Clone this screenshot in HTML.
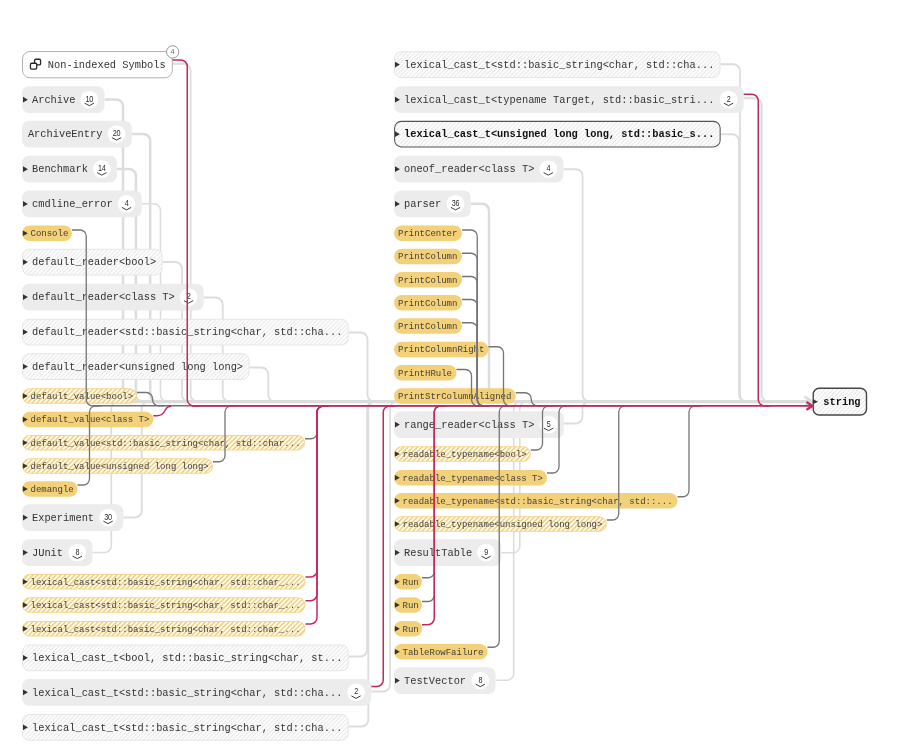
<!DOCTYPE html>
<html lang="en"><head><meta charset="utf-8"><title>Graph</title>
<style>
html,body{margin:0;padding:0;background:#fff;}
body{width:905px;height:752px;position:relative;overflow:hidden;font-family:"Liberation Mono",monospace;}
.edges{position:absolute;left:0;top:0;}
.lbls span{position:absolute;left:0;top:0;white-space:nowrap;}
.lt{font-size:10.35px;line-height:26.75px;height:26.75px;color:#333;}
.lb{font-weight:bold;color:#111;}
.lf{font-size:9px;line-height:15.5px;height:15.5px;color:#45423a;}
.bn{width:20px;text-align:center;font:normal 8.8px/8px "Liberation Sans",sans-serif;letter-spacing:-0.3px;color:#2a2a2a;}
.cn{font:7.3px/8px "Liberation Sans",sans-serif;color:#6a6a6a;width:12px;text-align:center;}
</style></head><body>

<svg class="edges" width="905" height="752" viewBox="0 0 905 752" fill="none" stroke-linecap="butt" stroke-linejoin="round">
<defs><pattern id="hg" patternUnits="userSpaceOnUse" width="3" height="3" patternTransform="rotate(45)"><rect width="3" height="3" fill="#fff"/><rect x="0" width="1.2" height="3" fill="#e9e9e9"/></pattern><pattern id="hy" patternUnits="userSpaceOnUse" width="3.3" height="3.3" patternTransform="rotate(45)"><rect width="3.3" height="3.3" fill="#fff"/><rect x="0" width="1.7" height="3.3" fill="#f3d383"/></pattern></defs>
<g stroke="#dddddd">
<path d="M172.50 63.75 L183.80 63.75 A6.80 6.80 0 0 1 190.60 70.55 L190.60 394.80 A6.80 6.80 0 0 0 197.40 401.60 L204.60 401.60" stroke-width="1.80"/>
<path d="M104.50 99.40 L116.20 99.40 A6.80 6.80 0 0 1 123.00 106.20 L123.00 394.80 A6.80 6.80 0 0 0 129.80 401.60 L137.00 401.60" stroke-width="2.50"/>
<path d="M131.75 134.00 L143.40 134.00 A6.80 6.80 0 0 1 150.20 140.80 L150.20 394.80 A6.80 6.80 0 0 0 157.00 401.60 L164.20 401.60" stroke-width="2.50"/>
<path d="M117.00 169.00 L129.10 169.00 A6.80 6.80 0 0 1 135.90 175.80 L135.90 394.80 A6.80 6.80 0 0 0 142.70 401.60 L149.90 401.60" stroke-width="2.50"/>
<path d="M141.75 203.75 L153.70 203.75 A6.80 6.80 0 0 1 160.50 210.55 L160.50 394.80 A6.80 6.80 0 0 0 167.30 401.60 L174.50 401.60" stroke-width="1.60"/>
<path d="M162.50 262.00 L175.20 262.00 A6.80 6.80 0 0 1 182.00 268.80 L182.00 394.80 A6.80 6.80 0 0 0 188.80 401.60 L196.00 401.60" stroke-width="1.80"/>
<path d="M203.75 297.50 L215.90 297.50 A6.80 6.80 0 0 1 222.70 304.30 L222.70 394.80 A6.80 6.80 0 0 0 229.50 401.60 L236.70 401.60" stroke-width="1.80"/>
<path d="M348.75 332.50 L360.70 332.50 A6.80 6.80 0 0 1 367.50 339.30 L367.50 394.80 A6.80 6.80 0 0 0 374.30 401.60 L381.50 401.60" stroke-width="1.80"/>
<path d="M249.50 367.50 L261.50 367.50 A6.80 6.80 0 0 1 268.30 374.30 L268.30 394.80 A6.80 6.80 0 0 0 275.10 401.60 L282.30 401.60" stroke-width="1.80"/>
<path d="M123.25 517.50 L134.95 517.50 A6.80 6.80 0 0 0 141.75 510.70 L141.75 408.40 A6.80 6.80 0 0 1 148.55 401.60 L155.75 401.60" stroke-width="1.90"/>
<path d="M92.50 552.50 L104.45 552.50 A6.80 6.80 0 0 0 111.25 545.70 L111.25 408.40 A6.80 6.80 0 0 1 118.05 401.60 L125.25 401.60" stroke-width="1.70"/>
<path d="M348.75 656.50 L360.30 656.50 A6.80 6.80 0 0 0 367.10 649.70 L367.10 408.40 A6.80 6.80 0 0 1 373.90 401.60 L381.10 401.60" stroke-width="1.80"/>
<path d="M371.25 691.50 L383.20 691.50 A6.80 6.80 0 0 0 390.00 684.70 L390.00 408.40 A6.80 6.80 0 0 1 396.80 401.60 L404.00 401.60" stroke-width="1.80"/>
<path d="M348.75 726.50 L361.50 726.50 A6.80 6.80 0 0 0 368.30 719.70 L368.30 408.40 A6.80 6.80 0 0 1 375.10 401.60 L382.30 401.60" stroke-width="1.80"/>
<path d="M720.50 64.25 L733.20 64.25 A6.80 6.80 0 0 1 740.00 71.05 L740.00 394.80 A6.80 6.80 0 0 0 746.80 401.60 L754.00 401.60" stroke-width="1.80"/>
<path d="M743.75 98.25 L754.95 98.25 A6.80 6.80 0 0 1 761.75 105.05 L761.75 394.80 A6.80 6.80 0 0 0 768.55 401.60 L775.75 401.60" stroke-width="1.80"/>
<path d="M720.75 134.25 L732.20 134.25 A6.80 6.80 0 0 1 739.00 141.05 L739.00 394.80 A6.80 6.80 0 0 0 745.80 401.60 L753.00 401.60" stroke-width="1.80"/>
<path d="M563.50 169.25 L575.80 169.25 A6.80 6.80 0 0 1 582.60 176.05 L582.60 394.80 A6.80 6.80 0 0 0 589.40 401.60 L596.60 401.60" stroke-width="1.80"/>
<path d="M470.75 203.75 L482.20 203.75 A6.80 6.80 0 0 1 489.00 210.55 L489.00 394.80 A6.80 6.80 0 0 0 495.80 401.60 L503.00 401.60" stroke-width="2.50"/>
<path d="M563.50 423.50 L575.70 423.50 A6.80 6.80 0 0 0 582.50 416.70 L582.50 408.40 A6.80 6.80 0 0 1 589.30 401.60 L596.50 401.60" stroke-width="1.80"/>
<path d="M501.25 552.75 L513.00 552.75 A6.80 6.80 0 0 0 519.80 545.95 L519.80 408.40 A6.80 6.80 0 0 1 526.60 401.60 L533.80 401.60" stroke-width="1.60"/>
<path d="M495.50 680.25 L506.90 680.25 A6.80 6.80 0 0 0 513.70 673.45 L513.70 408.40 A6.80 6.80 0 0 1 520.50 401.60 L527.70 401.60" stroke-width="1.60"/>
</g>
<path d="M119 401.60 H810.50" stroke="#dcdcdc" stroke-width="3.2"/>
<path d="M805.30 397.00 L811.70 401.40 L805.30 405.80" stroke="#dcdcdc" stroke-width="2.6" stroke-linecap="round"/>
<rect x="22.00" y="86.25" width="82.50" height="26.75" rx="7.2" fill="#ececec"/>
<circle cx="89.30" cy="99.62" r="8.9" fill="#fff"/>
<path d="M85.00 103.33 l4.3 2.3 l4.3 -2.3" stroke="#333" stroke-width="0.95" stroke-linecap="round"/>
<rect x="22.00" y="120.75" width="109.75" height="26.75" rx="7.2" fill="#ececec"/>
<circle cx="116.55" cy="134.12" r="8.9" fill="#fff"/>
<path d="M112.25 137.82 l4.3 2.3 l4.3 -2.3" stroke="#333" stroke-width="0.95" stroke-linecap="round"/>
<rect x="22.00" y="155.75" width="95.00" height="26.75" rx="7.2" fill="#ececec"/>
<circle cx="101.80" cy="169.12" r="8.9" fill="#fff"/>
<path d="M97.50 172.82 l4.3 2.3 l4.3 -2.3" stroke="#333" stroke-width="0.95" stroke-linecap="round"/>
<rect x="22.00" y="190.50" width="119.75" height="26.75" rx="7.2" fill="#ececec"/>
<circle cx="126.55" cy="203.88" r="8.9" fill="#fff"/>
<path d="M122.25 207.57 l4.3 2.3 l4.3 -2.3" stroke="#333" stroke-width="0.95" stroke-linecap="round"/>
<rect x="22.00" y="225.50" width="50.00" height="15.50" rx="7.8" fill="#f3d07a"/>
<rect x="22.50" y="249.25" width="139.50" height="25.75" rx="6.7" fill="url(#hg)" stroke="#e6e6e6" stroke-width="1"/>
<rect x="22.00" y="283.75" width="181.75" height="26.75" rx="7.2" fill="#ececec"/>
<circle cx="188.55" cy="297.12" r="8.9" fill="#fff"/>
<path d="M184.25 300.82 l4.3 2.3 l4.3 -2.3" stroke="#333" stroke-width="0.95" stroke-linecap="round"/>
<rect x="22.50" y="319.25" width="325.75" height="25.75" rx="6.7" fill="url(#hg)" stroke="#e6e6e6" stroke-width="1"/>
<rect x="22.50" y="353.75" width="226.50" height="25.75" rx="6.7" fill="url(#hg)" stroke="#e6e6e6" stroke-width="1"/>
<rect x="22.50" y="388.75" width="114.00" height="14.50" rx="7.2" fill="url(#hy)" stroke="#f3d689" stroke-width="1"/>
<rect x="22.00" y="411.75" width="131.25" height="15.50" rx="7.8" fill="#f3d07a"/>
<rect x="22.50" y="435.50" width="282.00" height="14.50" rx="7.2" fill="url(#hy)" stroke="#f3d689" stroke-width="1"/>
<rect x="22.50" y="458.75" width="190.00" height="14.50" rx="7.2" fill="url(#hy)" stroke="#f3d689" stroke-width="1"/>
<rect x="22.00" y="481.25" width="55.50" height="15.50" rx="7.8" fill="#f3d07a"/>
<rect x="22.00" y="504.25" width="101.25" height="26.75" rx="7.2" fill="#ececec"/>
<circle cx="108.05" cy="517.62" r="8.9" fill="#fff"/>
<path d="M103.75 521.33 l4.3 2.3 l4.3 -2.3" stroke="#333" stroke-width="0.95" stroke-linecap="round"/>
<rect x="22.00" y="539.25" width="70.50" height="26.75" rx="7.2" fill="#ececec"/>
<circle cx="77.30" cy="552.62" r="8.9" fill="#fff"/>
<path d="M73.00 556.33 l4.3 2.3 l4.3 -2.3" stroke="#333" stroke-width="0.95" stroke-linecap="round"/>
<rect x="22.50" y="574.50" width="282.50" height="14.50" rx="7.2" fill="url(#hy)" stroke="#f3d689" stroke-width="1"/>
<rect x="22.50" y="597.75" width="282.50" height="14.50" rx="7.2" fill="url(#hy)" stroke="#f3d689" stroke-width="1"/>
<rect x="22.50" y="621.50" width="282.50" height="14.50" rx="7.2" fill="url(#hy)" stroke="#f3d689" stroke-width="1"/>
<rect x="22.50" y="645.00" width="325.75" height="25.75" rx="6.7" fill="url(#hg)" stroke="#e6e6e6" stroke-width="1"/>
<rect x="22.00" y="679.00" width="349.25" height="26.75" rx="7.2" fill="#ececec"/>
<circle cx="356.05" cy="692.38" r="8.9" fill="#fff"/>
<path d="M351.75 696.08 l4.3 2.3 l4.3 -2.3" stroke="#333" stroke-width="0.95" stroke-linecap="round"/>
<rect x="22.50" y="714.50" width="325.75" height="25.75" rx="6.7" fill="url(#hg)" stroke="#e6e6e6" stroke-width="1"/>
<rect x="394.50" y="51.75" width="325.50" height="25.75" rx="6.7" fill="url(#hg)" stroke="#e6e6e6" stroke-width="1"/>
<rect x="394.00" y="86.25" width="349.75" height="26.75" rx="7.2" fill="#ececec"/>
<circle cx="728.55" cy="99.62" r="8.9" fill="#fff"/>
<path d="M724.25 103.33 l4.3 2.3 l4.3 -2.3" stroke="#333" stroke-width="0.95" stroke-linecap="round"/>
<rect x="394.60" y="121.35" width="325.55" height="25.55" rx="6.7" fill="url(#hg)" stroke="#555" stroke-width="1.05"/>
<rect x="394.00" y="155.75" width="169.50" height="26.75" rx="7.2" fill="#ececec"/>
<circle cx="548.30" cy="169.12" r="8.9" fill="#fff"/>
<path d="M544.00 172.82 l4.3 2.3 l4.3 -2.3" stroke="#333" stroke-width="0.95" stroke-linecap="round"/>
<rect x="394.00" y="190.50" width="76.75" height="26.75" rx="7.2" fill="#ececec"/>
<circle cx="455.55" cy="203.88" r="8.9" fill="#fff"/>
<path d="M451.25 207.57 l4.3 2.3 l4.3 -2.3" stroke="#333" stroke-width="0.95" stroke-linecap="round"/>
<rect x="394.00" y="225.50" width="68.00" height="15.50" rx="7.8" fill="#f3d07a"/>
<rect x="394.00" y="248.75" width="68.00" height="15.50" rx="7.8" fill="#f3d07a"/>
<rect x="394.00" y="272.00" width="68.00" height="15.50" rx="7.8" fill="#f3d07a"/>
<rect x="394.00" y="295.00" width="68.00" height="15.50" rx="7.8" fill="#f3d07a"/>
<rect x="394.00" y="318.25" width="68.00" height="15.50" rx="7.8" fill="#f3d07a"/>
<rect x="394.00" y="341.75" width="94.50" height="15.50" rx="7.8" fill="#f3d07a"/>
<rect x="394.00" y="365.00" width="62.50" height="15.50" rx="7.8" fill="#f3d07a"/>
<rect x="394.00" y="388.25" width="121.75" height="15.50" rx="7.8" fill="#f3d07a"/>
<rect x="394.00" y="411.25" width="169.75" height="26.75" rx="7.2" fill="#ececec"/>
<circle cx="548.55" cy="424.62" r="8.9" fill="#fff"/>
<path d="M544.25 428.32 l4.3 2.3 l4.3 -2.3" stroke="#333" stroke-width="0.95" stroke-linecap="round"/>
<rect x="394.50" y="446.75" width="135.75" height="14.50" rx="7.2" fill="url(#hy)" stroke="#f3d689" stroke-width="1"/>
<rect x="394.00" y="470.00" width="153.00" height="15.50" rx="7.8" fill="#f3d07a"/>
<rect x="394.00" y="493.00" width="283.50" height="15.50" rx="7.8" fill="#f3d07a"/>
<rect x="394.50" y="516.75" width="211.75" height="14.50" rx="7.2" fill="url(#hy)" stroke="#f3d689" stroke-width="1"/>
<rect x="394.00" y="539.25" width="107.25" height="26.75" rx="7.2" fill="#ececec"/>
<circle cx="486.05" cy="552.62" r="8.9" fill="#fff"/>
<path d="M481.75 556.33 l4.3 2.3 l4.3 -2.3" stroke="#333" stroke-width="0.95" stroke-linecap="round"/>
<rect x="394.00" y="574.00" width="28.00" height="15.50" rx="7.8" fill="#f3d07a"/>
<rect x="394.00" y="597.25" width="28.00" height="15.50" rx="7.8" fill="#f3d07a"/>
<rect x="394.00" y="621.00" width="28.00" height="15.50" rx="7.8" fill="#f3d07a"/>
<rect x="394.00" y="644.00" width="93.50" height="15.50" rx="7.8" fill="#f3d07a"/>
<rect x="394.00" y="667.25" width="101.50" height="26.75" rx="7.2" fill="#ececec"/>
<circle cx="480.30" cy="680.62" r="8.9" fill="#fff"/>
<path d="M476.00 684.33 l4.3 2.3 l4.3 -2.3" stroke="#333" stroke-width="0.95" stroke-linecap="round"/>
<rect x="22.5" y="51.5" width="149.8" height="26.3" rx="7.5" fill="#fff" stroke="#b2b2b2" stroke-width="1"/>
<rect x="34.55" y="59.25" width="6" height="5.7" rx="1.3" fill="#fff" stroke="#262626" stroke-width="1.3"/><rect x="30.45" y="63.25" width="6.3" height="5.8" rx="1.3" fill="#fff" stroke="#262626" stroke-width="1.3"/>
<rect x="813.2" y="388.2" width="53.3" height="26.8" rx="6" fill="url(#hg)" stroke="#474747" stroke-width="1.4"/>
</svg>
<div class="lbls">
<span class="lt" style="transform:translate(32.00px,86.85px)">Archive</span>
<span class="bn" style="transform:translate(79.30px,94.72px) scaleX(0.82)">10</span>
<span class="lt" style="transform:translate(27.90px,121.35px)">ArchiveEntry</span>
<span class="bn" style="transform:translate(106.55px,129.22px) scaleX(0.82)">20</span>
<span class="lt" style="transform:translate(32.00px,156.35px)">Benchmark</span>
<span class="bn" style="transform:translate(91.80px,164.22px) scaleX(0.82)">14</span>
<span class="lt" style="transform:translate(32.00px,191.10px)">cmdline_error</span>
<span class="bn" style="transform:translate(116.55px,198.97px) scaleX(0.82)">4</span>
<span class="lf" style="transform:translate(30.50px,227.00px)">Console</span>
<span class="lt" style="transform:translate(32.00px,249.35px)">default_reader&lt;bool&gt;</span>
<span class="lt" style="transform:translate(32.00px,284.35px)">default_reader&lt;class T&gt;</span>
<span class="bn" style="transform:translate(178.55px,292.23px) scaleX(0.82)">2</span>
<span class="lt" style="transform:translate(32.00px,319.35px)">default_reader&lt;std::basic_string&lt;char, std::cha...</span>
<span class="lt" style="transform:translate(32.00px,353.85px)">default_reader&lt;unsigned long long&gt;</span>
<span class="lf" style="transform:translate(30.50px,389.75px)">default_value&lt;bool&gt;</span>
<span class="lf" style="transform:translate(30.50px,413.25px)">default_value&lt;class T&gt;</span>
<span class="lf" style="transform:translate(30.50px,436.50px)">default_value&lt;std::basic_string&lt;char, std::char...</span>
<span class="lf" style="transform:translate(30.50px,459.75px)">default_value&lt;unsigned long long&gt;</span>
<span class="lf" style="transform:translate(30.50px,482.75px)">demangle</span>
<span class="lt" style="transform:translate(32.00px,504.85px)">Experiment</span>
<span class="bn" style="transform:translate(98.05px,512.73px) scaleX(0.82)">30</span>
<span class="lt" style="transform:translate(32.00px,539.85px)">JUnit</span>
<span class="bn" style="transform:translate(67.30px,547.73px) scaleX(0.82)">8</span>
<span class="lf" style="transform:translate(30.50px,575.50px)">lexical_cast&lt;std::basic_string&lt;char, std::char_...</span>
<span class="lf" style="transform:translate(30.50px,598.75px)">lexical_cast&lt;std::basic_string&lt;char, std::char_...</span>
<span class="lf" style="transform:translate(30.50px,622.50px)">lexical_cast&lt;std::basic_string&lt;char, std::char_...</span>
<span class="lt" style="transform:translate(32.00px,645.10px)">lexical_cast_t&lt;bool, std::basic_string&lt;char, st...</span>
<span class="lt" style="transform:translate(32.00px,679.60px)">lexical_cast_t&lt;std::basic_string&lt;char, std::cha...</span>
<span class="bn" style="transform:translate(346.05px,687.48px) scaleX(0.82)">2</span>
<span class="lt" style="transform:translate(32.00px,714.60px)">lexical_cast_t&lt;std::basic_string&lt;char, std::cha...</span>
<span class="lt" style="transform:translate(404.00px,51.85px)">lexical_cast_t&lt;std::basic_string&lt;char, std::cha...</span>
<span class="lt" style="transform:translate(404.00px,86.85px)">lexical_cast_t&lt;typename Target, std::basic_stri...</span>
<span class="bn" style="transform:translate(718.55px,94.72px) scaleX(0.82)">2</span>
<span class="lt lb" style="transform:translate(404.00px,121.35px)">lexical_cast_t&lt;unsigned long long, std::basic_s...</span>
<span class="lt" style="transform:translate(404.00px,156.35px)">oneof_reader&lt;class T&gt;</span>
<span class="bn" style="transform:translate(538.30px,164.22px) scaleX(0.82)">4</span>
<span class="lt" style="transform:translate(404.00px,191.10px)">parser</span>
<span class="bn" style="transform:translate(445.55px,198.97px) scaleX(0.82)">36</span>
<span class="lf" style="transform:translate(398.00px,227.00px)">PrintCenter</span>
<span class="lf" style="transform:translate(398.00px,250.25px)">PrintColumn</span>
<span class="lf" style="transform:translate(398.00px,273.50px)">PrintColumn</span>
<span class="lf" style="transform:translate(398.00px,296.50px)">PrintColumn</span>
<span class="lf" style="transform:translate(398.00px,319.75px)">PrintColumn</span>
<span class="lf" style="transform:translate(398.00px,343.25px)">PrintColumnRight</span>
<span class="lf" style="transform:translate(398.00px,366.50px)">PrintHRule</span>
<span class="lf" style="transform:translate(398.00px,389.75px)">PrintStrColumnAligned</span>
<span class="lt" style="transform:translate(404.00px,411.85px)">range_reader&lt;class T&gt;</span>
<span class="bn" style="transform:translate(538.55px,419.73px) scaleX(0.82)">5</span>
<span class="lf" style="transform:translate(402.50px,447.75px)">readable_typename&lt;bool&gt;</span>
<span class="lf" style="transform:translate(402.50px,471.50px)">readable_typename&lt;class T&gt;</span>
<span class="lf" style="transform:translate(402.50px,494.50px)">readable_typename&lt;std::basic_string&lt;char, std::...</span>
<span class="lf" style="transform:translate(402.50px,517.75px)">readable_typename&lt;unsigned long long&gt;</span>
<span class="lt" style="transform:translate(404.00px,539.85px)">ResultTable</span>
<span class="bn" style="transform:translate(476.05px,547.73px) scaleX(0.82)">9</span>
<span class="lf" style="transform:translate(402.50px,575.50px)">Run</span>
<span class="lf" style="transform:translate(402.50px,598.75px)">Run</span>
<span class="lf" style="transform:translate(402.50px,622.50px)">Run</span>
<span class="lf" style="transform:translate(402.50px,645.50px)">TableRowFailure</span>
<span class="lt" style="transform:translate(404.00px,667.85px)">TestVector</span>
<span class="bn" style="transform:translate(470.30px,675.73px) scaleX(0.82)">8</span>
<span class="lt" style="transform:translate(47.8px,51.9px)">Non-indexed Symbols</span>
<span class="lt lb" style="transform:translate(823.3px,388.8px)">string</span>
</div>
<svg class="edges" width="905" height="752" viewBox="0 0 905 752" fill="none" stroke-linecap="butt" stroke-linejoin="round">
<g fill="#333" stroke="none"><path d="M23.00 96.78 l4.9 2.85 l-4.9 2.85z"/><path d="M23.00 166.28 l4.9 2.85 l-4.9 2.85z"/><path d="M23.00 201.03 l4.9 2.85 l-4.9 2.85z"/><path d="M22.90 230.40 l4.9 2.85 l-4.9 2.85z"/><path d="M23.00 259.27 l4.9 2.85 l-4.9 2.85z"/><path d="M23.00 294.27 l4.9 2.85 l-4.9 2.85z"/><path d="M23.00 329.27 l4.9 2.85 l-4.9 2.85z"/><path d="M23.00 363.77 l4.9 2.85 l-4.9 2.85z"/><path d="M22.90 393.15 l4.9 2.85 l-4.9 2.85z"/><path d="M22.90 416.65 l4.9 2.85 l-4.9 2.85z"/><path d="M22.90 439.90 l4.9 2.85 l-4.9 2.85z"/><path d="M22.90 463.15 l4.9 2.85 l-4.9 2.85z"/><path d="M22.90 486.15 l4.9 2.85 l-4.9 2.85z"/><path d="M23.00 514.77 l4.9 2.85 l-4.9 2.85z"/><path d="M23.00 549.77 l4.9 2.85 l-4.9 2.85z"/><path d="M22.90 578.90 l4.9 2.85 l-4.9 2.85z"/><path d="M22.90 602.15 l4.9 2.85 l-4.9 2.85z"/><path d="M22.90 625.90 l4.9 2.85 l-4.9 2.85z"/><path d="M23.00 655.02 l4.9 2.85 l-4.9 2.85z"/><path d="M23.00 689.52 l4.9 2.85 l-4.9 2.85z"/><path d="M23.00 724.52 l4.9 2.85 l-4.9 2.85z"/><path d="M395.00 61.77 l4.9 2.85 l-4.9 2.85z"/><path d="M395.00 96.78 l4.9 2.85 l-4.9 2.85z"/><path d="M395.00 131.28 l4.9 2.85 l-4.9 2.85z"/><path d="M395.00 166.28 l4.9 2.85 l-4.9 2.85z"/><path d="M395.00 201.03 l4.9 2.85 l-4.9 2.85z"/><path d="M395.00 421.77 l4.9 2.85 l-4.9 2.85z"/><path d="M394.90 451.15 l4.9 2.85 l-4.9 2.85z"/><path d="M394.90 474.90 l4.9 2.85 l-4.9 2.85z"/><path d="M394.90 497.90 l4.9 2.85 l-4.9 2.85z"/><path d="M394.90 521.15 l4.9 2.85 l-4.9 2.85z"/><path d="M395.00 549.77 l4.9 2.85 l-4.9 2.85z"/><path d="M394.90 578.90 l4.9 2.85 l-4.9 2.85z"/><path d="M394.90 602.15 l4.9 2.85 l-4.9 2.85z"/><path d="M394.90 625.90 l4.9 2.85 l-4.9 2.85z"/><path d="M394.90 648.90 l4.9 2.85 l-4.9 2.85z"/><path d="M395.00 677.77 l4.9 2.85 l-4.9 2.85z"/></g>
<g stroke="#757575" stroke-width="1.3">
<path d="M72.00 230.00 L80.05 230.00 A6.20 6.20 0 0 1 86.25 236.20 L86.25 399.60 A6.20 6.20 0 0 0 92.45 405.80 L98.25 405.80"/>
<path d="M137.00 392.50 L146.30 392.50 A6.20 6.20 0 0 1 152.50 398.70 L152.50 399.60 A6.20 6.20 0 0 0 158.70 405.80 L164.50 405.80"/>
<path d="M305.00 438.75 L310.80 438.75 A6.20 6.20 0 0 0 317.00 432.55 L317.00 412.00 A6.20 6.20 0 0 1 323.20 405.80 L329.00 405.80"/>
<path d="M213.00 461.75 L218.80 461.75 A6.20 6.20 0 0 0 225.00 455.55 L225.00 412.00 A6.20 6.20 0 0 1 231.20 405.80 L237.00 405.80"/>
<path d="M77.50 485.00 L83.30 485.00 A6.20 6.20 0 0 0 89.50 478.80 L89.50 412.00 A6.20 6.20 0 0 1 95.70 405.80 L101.50 405.80"/>
<path d="M462.00 230.00 L471.05 230.00 A6.20 6.20 0 0 1 477.25 236.20 L477.25 399.60 A6.20 6.20 0 0 0 483.45 405.80 L489.25 405.80"/>
<path d="M462.00 253.25 L471.05 253.25 A6.20 6.20 0 0 1 477.25 259.45 L477.25 399.60 A6.20 6.20 0 0 0 483.45 405.80 L489.25 405.80"/>
<path d="M462.00 276.50 L471.05 276.50 A6.20 6.20 0 0 1 477.25 282.70 L477.25 399.60 A6.20 6.20 0 0 0 483.45 405.80 L489.25 405.80"/>
<path d="M462.00 299.50 L471.05 299.50 A6.20 6.20 0 0 1 477.25 305.70 L477.25 399.60 A6.20 6.20 0 0 0 483.45 405.80 L489.25 405.80"/>
<path d="M462.00 322.75 L471.05 322.75 A6.20 6.20 0 0 1 477.25 328.95 L477.25 399.60 A6.20 6.20 0 0 0 483.45 405.80 L489.25 405.80"/>
<path d="M488.50 346.75 L497.30 346.75 A6.20 6.20 0 0 1 503.50 352.95 L503.50 399.60 A6.20 6.20 0 0 0 509.70 405.80 L515.50 405.80"/>
<path d="M456.50 369.50 L465.30 369.50 A6.20 6.20 0 0 1 471.50 375.70 L471.50 399.60 A6.20 6.20 0 0 0 477.70 405.80 L483.50 405.80"/>
<path d="M515.75 392.75 L525.05 392.75 A6.20 6.20 0 0 1 531.25 398.95 L531.25 399.60 A6.20 6.20 0 0 0 537.45 405.80 L543.25 405.80"/>
<path d="M530.75 450.00 L536.30 450.00 A6.20 6.20 0 0 0 542.50 443.80 L542.50 412.00 A6.20 6.20 0 0 1 548.70 405.80 L554.50 405.80"/>
<path d="M547.00 473.00 L552.80 473.00 A6.20 6.20 0 0 0 559.00 466.80 L559.00 412.00 A6.20 6.20 0 0 1 565.20 405.80 L571.00 405.80"/>
<path d="M677.50 496.75 L682.80 496.75 A6.20 6.20 0 0 0 689.00 490.55 L689.00 412.00 A6.20 6.20 0 0 1 695.20 405.80 L701.00 405.80"/>
<path d="M606.75 520.00 L612.55 520.00 A6.20 6.20 0 0 0 618.75 513.80 L618.75 412.00 A6.20 6.20 0 0 1 624.95 405.80 L630.75 405.80"/>
<path d="M422.00 577.75 L428.05 577.75 A6.20 6.20 0 0 0 434.25 571.55 L434.25 412.00 A6.20 6.20 0 0 1 440.45 405.80 L446.25 405.80"/>
<path d="M422.00 601.50 L428.05 601.50 A6.20 6.20 0 0 0 434.25 595.30 L434.25 412.00 A6.20 6.20 0 0 1 440.45 405.80 L446.25 405.80"/>
<path d="M487.50 647.25 L493.05 647.25 A6.20 6.20 0 0 0 499.25 641.05 L499.25 412.00 A6.20 6.20 0 0 1 505.45 405.80 L511.25 405.80"/>
<path d="M93 405.80 H700" stroke="#707070" stroke-width="1.5"/>
</g>
<g stroke="#c5285c" stroke-width="1.5">
<path d="M172.50 60.00 L180.75 60.00 A6.50 6.50 0 0 1 187.25 66.50 L187.25 399.40 A6.50 6.50 0 0 0 193.75 405.90 L199.25 405.90"/>
<path d="M305.50 577.00 L310.50 577.00 A6.50 6.50 0 0 0 317.00 570.50 L317.00 412.40 A6.50 6.50 0 0 1 323.50 405.90 L329.00 405.90"/>
<path d="M305.50 600.75 L310.50 600.75 A6.50 6.50 0 0 0 317.00 594.25 L317.00 412.40 A6.50 6.50 0 0 1 323.50 405.90 L329.00 405.90"/>
<path d="M305.50 624.00 L310.50 624.00 A6.50 6.50 0 0 0 317.00 617.50 L317.00 412.40 A6.50 6.50 0 0 1 323.50 405.90 L329.00 405.90"/>
<path d="M371.25 686.50 L376.75 686.50 A6.50 6.50 0 0 0 383.25 680.00 L383.25 412.40 A6.50 6.50 0 0 1 389.75 405.90 L395.25 405.90"/>
<path d="M422.00 624.75 L427.75 624.75 A6.50 6.50 0 0 0 434.25 618.25 L434.25 412.40 A6.50 6.50 0 0 1 440.75 405.90 L446.25 405.90"/>
<path d="M743.75 94.25 L751.75 94.25 A6.50 6.50 0 0 1 758.25 100.75 L758.25 399.40 A6.50 6.50 0 0 0 764.75 405.90 L770.25 405.90"/>
<path d="M153.25 415.7 L157 415.7 C162 415.7 163.5 413.5 164.7 411 C166 408 167.5 406.4 171 406.3"/>
<path d="M192 405.90 H812.50" stroke-width="1.7"/>
<path d="M807.30 402.50 L812.40 405.90 L807.30 409.30" stroke-width="2.3" stroke-linecap="round" stroke-linejoin="miter"/>
</g>
<path d="M813.2 399.3 l4.8 2.35 l-4.8 2.35z" fill="#333"/>
<circle cx="172.65" cy="51.9" r="6.15" fill="#fff" stroke="#999" stroke-width="1"/>
</svg>
<div class="lbls"><span class="cn" style="transform:translate(166.65px,47.9px)">4</span></div>
</body></html>
